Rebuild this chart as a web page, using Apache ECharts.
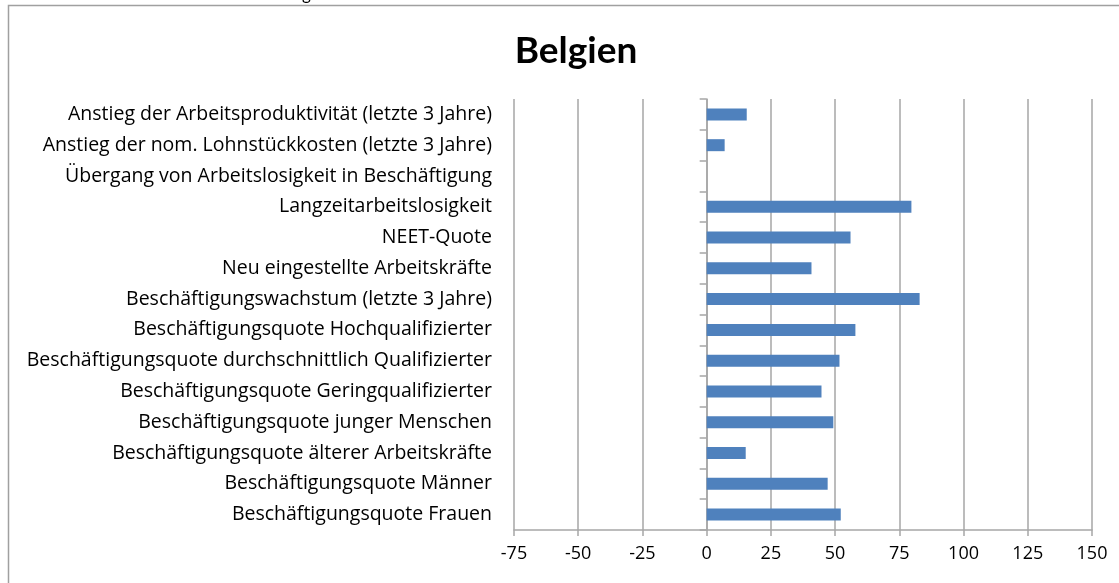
<!DOCTYPE html>
<html>
<head>
<meta charset="utf-8">
<script src="https://cdn.jsdelivr.net/npm/echarts@6/dist/echarts.min.js"></script>
<style>
	html, body { margin: 0; padding: 0; background: #fff; }
	#chart { width: 1119px; height: 583px; }
</style>
</head>
<body>
<div id="chart"></div>
<script>
	// Kategorien von oben nach unten
	var categories = [
		'Anstieg der Arbeitsproduktivität (letzte 3 Jahre)',
		'Anstieg der nom. Lohnstückkosten (letzte 3 Jahre)',
		'Übergang von Arbeitslosigkeit in Beschäftigung',
		'Langzeitarbeitslosigkeit',
		'NEET-Quote',
		'Neu eingestellte Arbeitskräfte',
		'Beschäftigungswachstum (letzte 3 Jahre)',
		'Beschäftigungsquote Hochqualifizierter',
		'Beschäftigungsquote durchschnittlich Qualifizierter',
		'Beschäftigungsquote Geringqualifizierter',
		'Beschäftigungsquote junger Menschen',
		'Beschäftigungsquote älterer Arbeitskräfte',
		'Beschäftigungsquote Männer',
		'Beschäftigungsquote Frauen'
	];
	var values = [15.6, 7, null, 79.7, 56, 40.8, 82.9, 57.9, 51.7, 44.7, 49.3, 15.2, 47.1, 52.2];
	var xTicks = [-75, 150, 25]; // min, max, interval

	var labelFont = '"Open Sans", Lato, sans-serif';
	var titleFont = 'Lato, "Open Sans", sans-serif';
	var grey = '#a6a6a6';

	var chart = echarts.init(document.getElementById('chart'));
	var option = {
		backgroundColor: '#fff',
		animation: false,
		title: {
			text: 'Belgien',
			left: 571,
			textAlign: 'center',
			top: 28,
			textStyle: {
				fontFamily: titleFont,
				fontWeight: 'bold',
				fontSize: 37,
				color: '#000'
			}
		},
		graphic: [{
			type: 'rect',
			shape: { x: 8.5, y: 5.5, width: 1200, height: 700 },
			style: { fill: 'none', stroke: '#a0a0a0', lineWidth: 1.5 },
			silent: true
		}, {
			type: 'text',
			left: 302,
			top: -14,
			style: { text: 'g', fontFamily: titleFont, fontSize: 17, fill: '#000' },
			silent: true
		}],
		grid: {
			left: 514,
			right: 27,
			top: 99,
			bottom: 53
		},
		xAxis: {
			type: 'value',
			min: xTicks[0],
			max: xTicks[1],
			interval: xTicks[2],
			axisLine: { show: true, lineStyle: { color: grey, width: 1.5 } },
			axisTick: { show: true, length: 6, lineStyle: { color: grey, width: 1.5 } },
			axisLabel: {
				color: '#000',
				fontFamily: labelFont,
				fontSize: 18,
				margin: 15
			},
			splitLine: { show: true, lineStyle: { color: grey, width: 1.5 } }
		},
		yAxis: [{
			type: 'category',
			data: categories,
			inverse: true,
			position: 'left',
			axisLine: { show: false, onZero: false },
			axisTick: { show: false },
			axisLabel: {
				color: '#000',
				fontFamily: labelFont,
				fontSize: 19.5,
				margin: 22
			}
		}, {
			type: 'category',
			data: categories,
			inverse: true,
			position: 'left',
			axisLine: { show: true, onZero: true, lineStyle: { color: grey, width: 1.5 } },
			axisTick: { show: true, length: 7, lineStyle: { color: grey, width: 1.5 } },
			axisLabel: { show: false }
		}],
		series: [{
			type: 'bar',
			yAxisIndex: 0,
			data: values,
			barWidth: 12,
			itemStyle: { color: '#4f81bd' }
		}]
	};
	chart.setOption(option);
</script>
</body>
</html>
